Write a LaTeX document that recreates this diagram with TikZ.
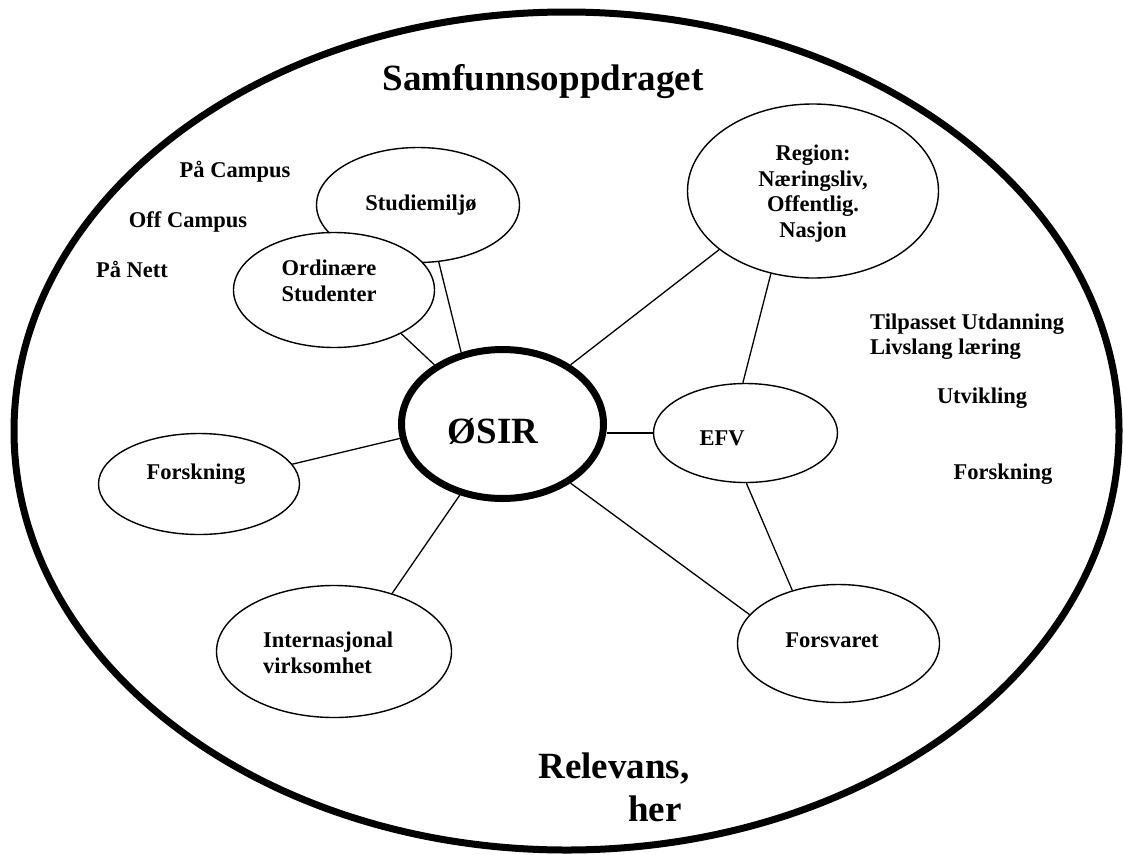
\documentclass[tikz,border=0pt]{standalone}
\usepackage{fontspec}
\setmainfont{Liberation Serif}
\usetikzlibrary{shapes.geometric}
\begin{document}
\begin{tikzpicture}[x=1pt,y=-1pt,
  bub/.style={draw, ellipse, line width=1.4pt, inner sep=0pt},
  lab/.style={font=\bfseries\fontsize{22.5}{26}\selectfont, inner sep=0pt, anchor=base},
  mlab/.style={font=\bfseries\fontsize{22.5}{26}\selectfont, inner sep=0pt},
  big/.style={font=\bfseries\fontsize{37}{44}\selectfont, inner sep=0pt, anchor=base},
  con/.style={line width=1.3pt}]
\useasboundingbox (0,0) rectangle (1123,854);
% outer ellipse
\node[draw, ellipse, line width=7pt, inner sep=0pt, minimum width=1105pt, minimum height=838pt] (outer) at (566.5,431) {};
% bubbles
\node[bub, minimum width=203pt, minimum height=115pt] (stud) at (418,205) {};
\node[bub, fill=white, minimum width=201pt, minimum height=115pt] (ord) at (334,290) {};
\node[bub, minimum width=251pt, minimum height=174pt] (reg) at (813,191) {};
\node[draw, ellipse, line width=7pt, inner sep=0pt, minimum width=202pt, minimum height=149pt] (osir) at (502.5,424) {};
\node[bub, minimum width=184pt, minimum height=99pt] (efv) at (745.5,433) {};
\node[bub, minimum width=201pt, minimum height=101pt] (forL) at (199,484) {};
\node[bub, minimum width=235pt, minimum height=132pt] (int) at (334,651.5) {};
\node[bub, minimum width=202pt, minimum height=118pt] (fors) at (838.5,643.5) {};
% connectors
\draw[con] (stud.-70) -- (osir.120);
\draw[con] (ord.-33) -- (osir.139);
\draw[con] (reg.212) -- (osir.41);
\draw[con] (reg.243) -- (efv.93);
\draw[con] (efv.west) -- (efv.west -| osir.east);
\draw[con] (forL.12) -- (osir.188);
\draw[con] (int.45) -- (osir.239);
\draw[con] (osir.-41.5) -- (fors.162);
\draw[con] (efv.-89) -- (fors.131);
% texts
\node[big] (samf) at (543,90) {Samfunnsoppdraget};
\node[big] (osirT) at (493,443) {ØSIR};
\node[big] (rel) at (614,778) {Relevans,};
\node[big] (her) at (655,821) {her};
\node[lab] (paC) at (235,177) {På Campus};
\node[lab] (offC) at (188,227) {Off Campus};
\node[lab] (paN) at (132,277) {På Nett};
\node[lab] (studT) at (421,210) {Studiemiljø};
\node[mlab, align=center] (ordT) at (329,281) {Ordinære\\Studenter};
\node[mlab, align=center, font=\bfseries\fontsize{22.5}{25.7}\selectfont] (regT) at (813,193.5) {Region:\\Næringsliv,\\Offentlig.\\Nasjon};
\node[lab] (efvT) at (722,445) {EFV};
\node[lab] (forLT) at (196,479) {Forskning};
\node[mlab, align=left, anchor=west] (intT) at (263,652.3) {Internasjonal\\virksomhet};
\node[lab] (forsT) at (832,647) {Forsvaret};
\node[mlab, align=left, anchor=west, font=\bfseries\fontsize{22.5}{25}\selectfont] (tilp) at (870,336.3) {Tilpasset Utdanning\\Livslang læring};
\node[lab] (utv) at (982,403) {Utvikling};
\node[lab] (forRT) at (1003,479) {Forskning};
\end{tikzpicture}
\end{document}
